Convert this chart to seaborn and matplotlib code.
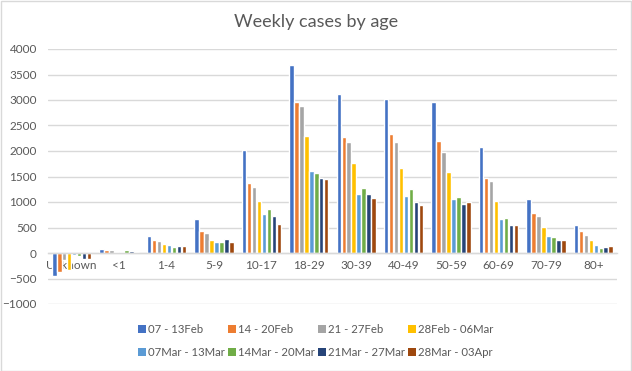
import matplotlib
matplotlib.use("Agg")
import matplotlib.pyplot as plt
import seaborn as sns
import pandas as pd
from matplotlib.patches import Patch, Rectangle

categories = ["Unknown", "<1", "1-4", "5-9", "10-17", "18-29", "30-39", "40-49",
              "50-59", "60-69", "70-79", "80+"]
weeks = ["07 - 13Feb", "14 - 20Feb", "21 - 27Feb", "28Feb - 06Mar",
         "07Mar - 13Mar", "14Mar - 20Mar", "21Mar - 27Mar", "28Mar - 03Apr"]

w1 = [-444, 85, 340, 673, 2026, 3693, 3124, 3026, 2967, 2085, 1065, 556]
w2 = [-380, 65, 261, 438, 1379, 2967, 2281, 2340, 2203, 1477, 791, 438]
w3 = [-144, 65, 242, 399, 1301, 2889, 2183, 2183, 1987, 1418, 732, 359]
w4 = [-327, 26, 183, 261, 1026, 2301, 1771, 1673, 1595, 1026, 516, 261]
w5 = [-46, 26, 163, 222, 771, 1614, 1163, 1124, 1065, 673, 340, 163]
w6 = [-65, 65, 124, 222, 869, 1575, 1281, 1261, 1105, 693, 320, 105]
w7 = [-118, 46, 144, 281, 732, 1477, 1163, 1007, 967, 556, 261, 124]
w8 = [-118, 26, 144, 222, 575, 1458, 1085, 948, 1007, 556, 261, 144]

series = [w1, w2, w3, w4, w5, w6, w7, w8]
colors = ["#4472C4", "#ED7D31", "#A5A5A5", "#FFC000",
          "#5B9BD5", "#70AD47", "#264478", "#9E480E"]

rows = []
for wk, vals in zip(weeks, series):
    for c, v in zip(categories, vals):
        rows.append({"age": c, "week": wk, "cases": v})
df = pd.DataFrame(rows)

sns.set_theme(style="white")
plt.rcParams["font.family"] = ["Lato", "DejaVu Sans"]
text_color = "#595959"
grid_color = "#D9D9D9"

fig = plt.figure(figsize=(6.32, 3.71), dpi=100)
ax = fig.add_axes([48 / 632, 1 - 304 / 371, (617 - 48) / 632, (304 - 49) / 371])

sns.barplot(data=df, x="age", y="cases", hue="week", order=categories,
            hue_order=weeks, palette=colors, width=0.84, gap=0.1,
            saturation=1, ax=ax, legend=False)

ax.set_xlim(-0.5, len(categories) - 0.5)
ax.set_ylim(-1000, 4000)
ax.set_yticks(range(-1000, 4001, 500))
ax.yaxis.grid(True, color=grid_color, linewidth=1)
ax.set_axisbelow(True)
for s in ["top", "right", "left"]:
    ax.spines[s].set_visible(False)
ax.spines["bottom"].set_position(("data", 0))
ax.spines["bottom"].set_color(grid_color)
ax.spines["bottom"].set_linewidth(1)
ax.tick_params(axis="both", length=0, labelsize=8.5, colors=text_color)
ax.tick_params(axis="x", pad=5)
ax.tick_params(axis="y", pad=8)
ax.set_xlabel("")
ax.set_ylabel("")

fig.text(0.5, 1 - 22 / 371, "Weekly cases by age", ha="center", va="center",
         fontsize=13, color=text_color)

order = [0, 4, 1, 5, 2, 6, 3, 7]
handles = [Patch(facecolor=colors[i], edgecolor="none") for i in order]
labels = [weeks[i] for i in order]
fig.legend(handles, labels, loc="center", bbox_to_anchor=(0.5, 1 - 341 / 371),
           ncol=4, frameon=False, fontsize=8.2, labelcolor=text_color,
           handlelength=0.7, handleheight=0.7, handletextpad=0.2,
           columnspacing=0.25, labelspacing=1.0)

fig.patches.append(Rectangle((0.001, 0.001), 0.997, 0.996, transform=fig.transFigure,
                             fill=False, edgecolor=grid_color, linewidth=1))

fig.savefig("out.png", dpi=100)
